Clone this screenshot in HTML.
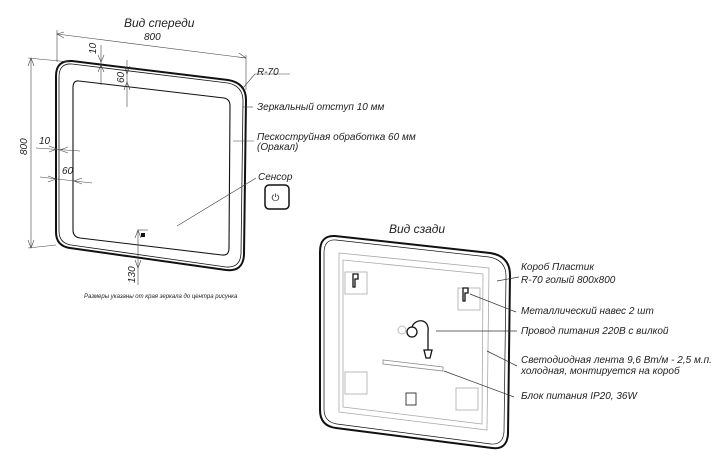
<!DOCTYPE html>
<html><head><meta charset="utf-8"><style>
body{margin:0;background:#fff}
svg text{font-family:"Liberation Sans","DejaVu Sans",sans-serif;font-style:italic;fill:#222}
</style></head><body>
<svg width="720" height="466" viewBox="0 0 720 466" xmlns="http://www.w3.org/2000/svg">
<g fill="none" stroke="#111" stroke-width="1.3">
<path d="M72,61 L228,80 Q246,83 246,100 L244,255 Q243,272 226,270 L70,248 Q56,246 56,232 L56,76 Q56,60 72,61 Z" stroke-width="2"/>
<path d="M72,64 L228,83 Q243,86 243,101 L241,254 Q240,268 226,267 L71,245 Q59,243 59,231 L59,77 Q59,63 72,64 Z" stroke-width="0.8"/>
<path d="M79,81 L224,98 Q230,99 230,106 L229,248 Q229,256 222,255 L80,238 Q73,237 73,230 L73,88 Q73,80 79,81 Z" stroke-width="1.1"/>
</g>
<g stroke="#444" stroke-width="0.6" fill="none">
<line x1="57" y1="34" x2="246" y2="58"/><line x1="57" y1="30" x2="57" y2="62"/><line x1="246" y1="55" x2="246" y2="90"/>
<path d="M64,32 L57,34 L64,38 M239,53 L246,58 L238,57"/>
<line x1="31" y1="58" x2="31" y2="248"/><line x1="28" y1="58" x2="70" y2="62"/><line x1="28" y1="248" x2="56" y2="245"/>
<path d="M28,66 L31,58 L34,66 M28,240 L31,248 L34,240"/>
<line x1="101" y1="45" x2="101" y2="85"/>
<path d="M98,55 L101,62 L104,55 M98,72 L101,65 L104,72"/>
<line x1="127" y1="60" x2="127" y2="107"/>
<path d="M124,66 L127,74 L130,66 M124,90 L127,82 L130,90"/>
<line x1="36" y1="148" x2="80" y2="151"/>
<path d="M49,146 L57,149 L49,152 M68,147 L60,150 L68,153"/>
<line x1="40" y1="177" x2="92" y2="183"/>
<path d="M48,176 L56,179 L48,182 M82,178 L74,181 L82,184"/>
<line x1="138" y1="230" x2="138" y2="285"/><line x1="138" y1="230" x2="148" y2="230"/>
<path d="M135,238 L138,230 L141,238 M135,260 L138,268 L141,260"/>
<line x1="243" y1="88" x2="255" y2="74"/><line x1="255" y1="74" x2="290" y2="74"/>
<line x1="243" y1="107" x2="253" y2="107"/>
<line x1="233" y1="141" x2="254" y2="141"/>
<line x1="177" y1="226" x2="256" y2="178"/>
</g>
<rect x="141" y="233" width="4" height="4" fill="#111"/>
<rect x="265" y="185" width="24" height="24" rx="4" fill="none" stroke="#111" stroke-width="1.5"/>
<text x="271.5" y="201" font-size="10" style="font-style:normal">⏻</text>

<g font-size="10">
<text x="124" y="27" font-size="12">Вид спереди</text>
<text x="144" y="40">800</text>
<text x="257" y="75">R-70</text>
<text x="257" y="110">Зеркальный отступ 10 мм</text>
<text x="257" y="140">Пескоструйная обработка 60 мм</text>
<text x="257" y="150">(Оракал)</text>
<text x="258" y="180">Сенсор</text>
<text x="39" y="144">10</text><text x="62" y="174">60</text>
<text x="22" y="160" transform="rotate(-90 22 155)">800</text>
<text x="96" y="54" transform="rotate(-90 96 54)">10</text>
<text x="124" y="83" transform="rotate(-90 124 83)">60</text>
<text x="135" y="283" transform="rotate(-90 135 283)">130</text>
<text x="84" y="298" font-size="6">Размеры указаны от края зеркала до центра рисунка</text>
<text x="389" y="233" font-size="12">Вид сзади</text>
<text x="521" y="270">Короб Пластик</text>
<text x="521" y="283">R-70 голый   800x800</text>
<text x="521" y="314">Металлический навес 2 шт</text>
<text x="521" y="334">Провод питания 220В с вилкой</text>
<text x="521" y="363">Светодиодная лента 9,6 Вт/м - 2,5 м.п.</text>
<text x="521" y="374">холодная, монтируется на короб</text>
<text x="521" y="399">Блок питания IP20, 36W</text>
</g>

<g fill="none" stroke="#111">
<path d="M335,236 L490,253 Q510,256 510,275 L508,434 Q507,450 492,448 L336,428 Q320,426 320,410 L320,252 Q320,235 335,236 Z" stroke-width="2"/>
<path d="M336,240 L489,257 Q506,260 506,276 L504,432 Q503,445 491,444 L337,424 Q324,422 324,409 L324,253 Q324,239 336,240 Z" stroke-width="0.7"/>
</g>
<g fill="none" stroke="#aaa" stroke-width="0.8">
<path d="M339,253 L489,268 L487,430 L339,412 Z"/>
<path d="M343,260 L483,274 L482,424 L343,407 Z"/>
<rect x="345" y="272" width="22" height="22"/><rect x="458" y="288" width="22" height="22"/>
<rect x="345" y="372" width="22" height="22"/><rect x="456" y="388" width="22" height="22"/>
<path d="M383,360 L443,367 L443,371 L383,364 Z" stroke="#888"/>
</g>
<g fill="none" stroke="#111" stroke-width="1.3">
<path d="M353,274 h5 v5 h-3 v8 h-2 z"/><path d="M463,288 h5 v5 h-3 v8 h-2 z"/>
<circle cx="412" cy="332" r="5"/>
<path d="M412,327 C415,318 430,318 428,332 L428,350"/>
<path d="M424,350 h8 l-2,8 h-4 z"/>
<rect x="406" y="393" width="10" height="12" stroke-width="0.8"/>
</g>
<circle cx="402" cy="330" r="4" fill="none" stroke="#bbb"/>
<g stroke="#333" stroke-width="0.7">
<line x1="497" y1="281" x2="519" y2="277"/>
<line x1="470" y1="294" x2="516" y2="312"/>
<line x1="436" y1="331" x2="517" y2="331"/>
<line x1="487" y1="351" x2="517" y2="366"/>
<line x1="444" y1="371" x2="514" y2="397"/>
</g>
</svg>
</body></html>
